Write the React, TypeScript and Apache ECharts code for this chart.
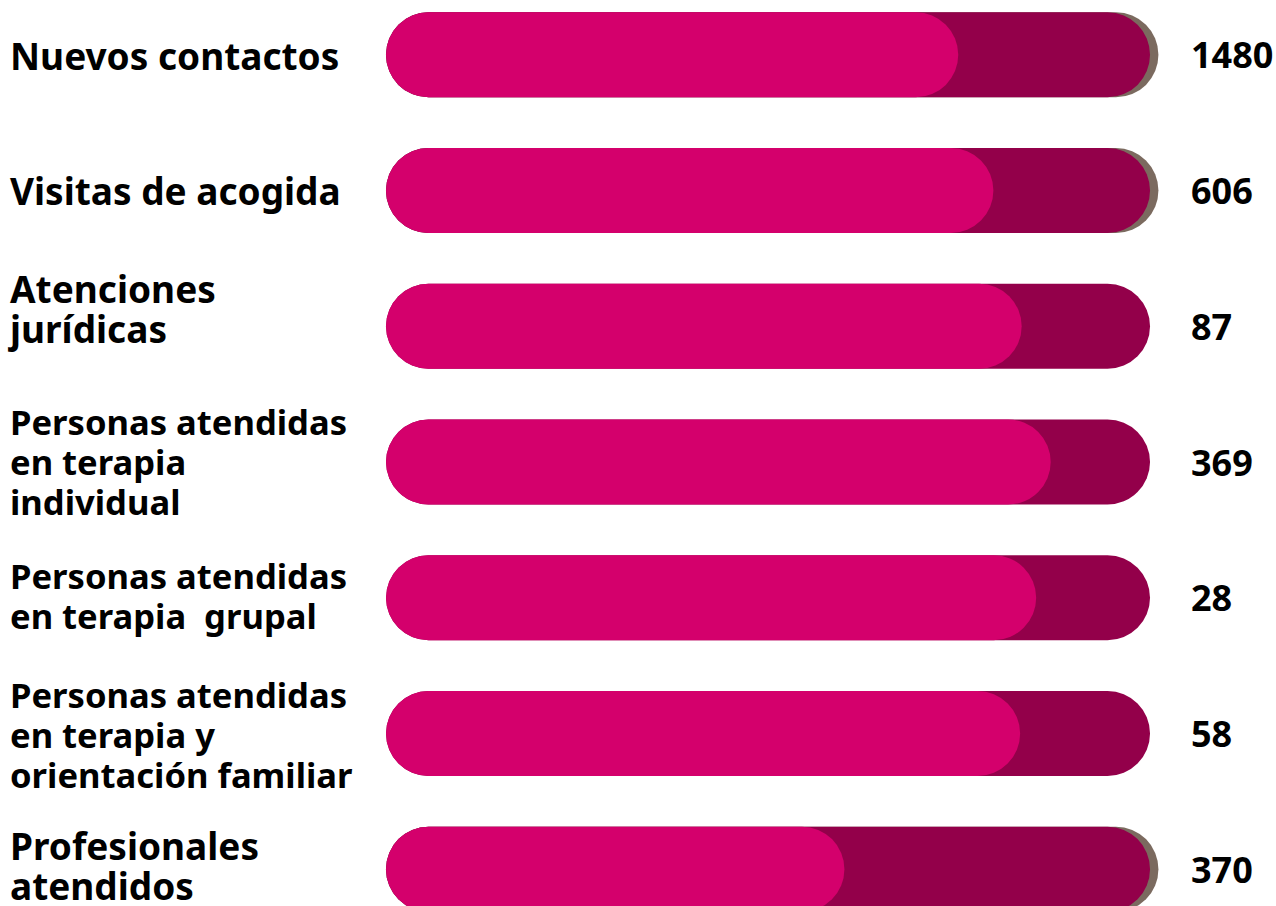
import React, { useEffect, useRef } from "react";
import * as echarts from "echarts";

const categories = [
  "Nuevos contactos",
  "Visitas de acogida",
  "Atenciones\njurídicas",
  "Personas atendidas\nen terapia\nindividual",
  "Personas atendidas\nen terapia  grupal",
  "Personas atendidas\nen terapia y\norientación familiar",
  "Profesionales\natendidos",
];
const values = [1480, 606, 87, 369, 28, 58, 370];
// filled share of each decorative pill (percent of the track)
const fillPercent = [74.9, 79.5, 83.2, 87.0, 85.1, 83.0, 60.0];
const trackPercent = [100, 100, 100, 100, 100, 100, 100];
const hasShadow = [true, true, false, false, false, false, true];

// layout tweaks for the left labels (not data)
const labelShift = [1, 0, -18, -1, -2, 1, -4];
const labelSize = [37, 37, 37, 34.6, 34.6, 34.6, 37];

const PINK = "#d4006c";
const DARK = "#93004a";
const SHADOW = "#7b6a5f";

export default function App() {
  const ref = useRef<HTMLDivElement>(null);
  useEffect(() => {
    if (!ref.current) return;
    const chart = echarts.init(ref.current, undefined, { renderer: "svg" });
    const font = "'Noto Sans', 'Open Sans', sans-serif";
    chart.setOption({
      animation: false,
      grid: {
        left: 386,
        right: 110.7,
        top: 0,
        bottom: 0,
        containLabel: false,
        outerBoundsMode: "none",
      },
      xAxis: { type: "value", min: 0, max: 102, show: false },
      yAxis: {
        type: "category",
        data: categories,
        inverse: true,
        axisLine: { show: false },
        axisTick: { show: false },
        splitLine: { show: false },
        axisLabel: { show: false },
      },
      series: [
        {
          // carries the category names on the left
          type: "bar",
          data: trackPercent.map((v, i) => ({
            value: v,
            label: { offset: [0, labelShift[i]], fontSize: labelSize[i] },
          })),
          barWidth: 85,
          barGap: "-100%",
          itemStyle: { color: "rgba(0,0,0,0)" },
          label: {
            show: true,
            position: "left",
            distance: 376,
            align: "left",
            verticalAlign: "middle",
            color: "#000",
            fontFamily: font,
            fontWeight: 700,
            fontSize: 37,
            lineHeight: 40,
            formatter: (p: any) => categories[p.dataIndex],
          },
          silent: true,
        },
        {
          type: "bar",
          data: hasShadow.map((s, i) => (s ? trackPercent[i] * 1.011 : 0)),
          barWidth: 85,
          barGap: "-100%",
          itemStyle: { color: SHADOW, borderRadius: 42.5 },
          silent: true,
        },
        {
          type: "bar",
          data: trackPercent,
          barWidth: 85,
          barGap: "-100%",
          itemStyle: { color: DARK, borderRadius: 42.5 },
          label: {
            show: true,
            position: "right",
            distance: 41,
            color: "#000",
            fontFamily: font,
            fontWeight: 700,
            fontSize: 36,
            formatter: (p: any) => String(values[p.dataIndex]),
          },
          silent: true,
        },
        {
          type: "bar",
          data: fillPercent,
          barWidth: 85,
          barGap: "-100%",
          itemStyle: { color: PINK, borderRadius: 42.5 },
          silent: true,
        },
      ],
    });
    return () => chart.dispose();
  }, []);
  return (
    <div
      ref={ref}
      style={{ position: "fixed", left: 0, top: -13.3, width: 1276, height: 949.7, background: "#fff" }}
    />
  );
}
